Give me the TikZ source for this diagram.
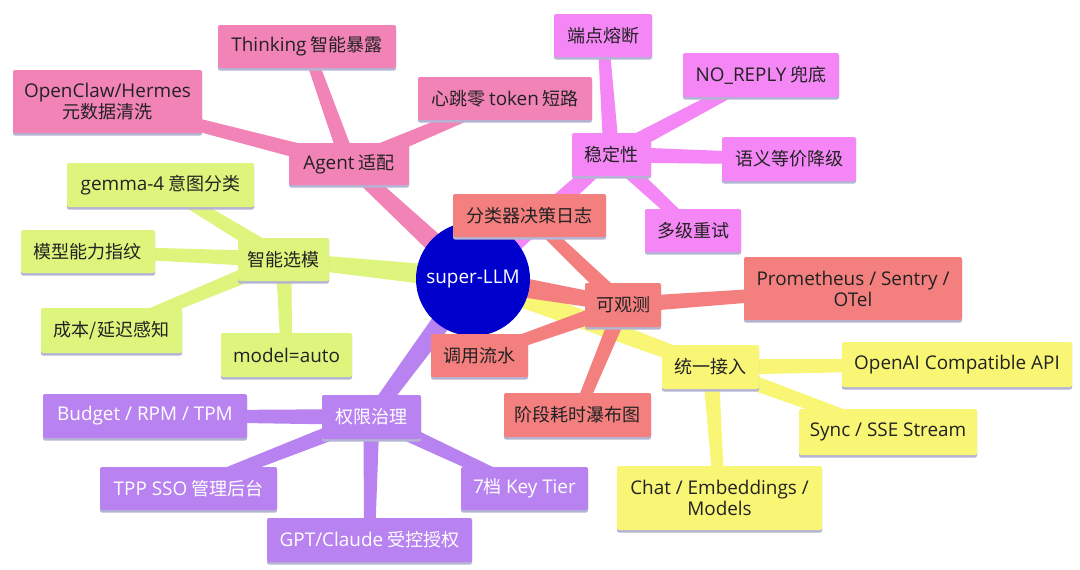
\documentclass[tikz,border=0pt]{standalone}
\usepackage{fontspec}
\setmainfont{Noto Sans CJK SC}
\newfontfamily\latinf[Scale=1.05]{Open Sans}
\newcommand\Lf[1]{{\latinf #1}}
\usetikzlibrary{calc,shadows}
\definecolor{cpink}{HTML}{F283B6}
\definecolor{cmag}{HTML}{F487F5}
\definecolor{cgreen}{HTML}{DDF57C}
\definecolor{csalmon}{HTML}{F47F7F}
\definecolor{cyellow}{HTML}{F8F674}
\definecolor{cpurple}{HTML}{B883F0}
\definecolor{cblue}{HTML}{0000CC}
\definecolor{cshadow}{HTML}{B4B4D4}
\definecolor{ctext}{HTML}{222222}
\pgfdeclarelayer{bg}\pgfsetlayers{bg,main}
\tikzset{
  box/.style={rectangle, rounded corners=2pt, inner sep=0pt, align=center,
    font=\fontsize{18}{21}\selectfont, text=ctext,
    drop shadow={shadow xshift=0pt, shadow yshift=-2.5pt, fill=cshadow, opacity=1}},
  pinkbox/.style={box, fill=cpink},
  magbox/.style={box, fill=cmag},
  greenbox/.style={box, fill=cgreen},
  salmonbox/.style={box, fill=csalmon},
  yellowbox/.style={box, fill=cyellow},
  purplebox/.style={box, fill=cpurple, text=white},
  hub/.style={circle, fill=cblue, text=white, inner sep=0pt, minimum size=114pt,
    font=\fontsize{18}{21}\selectfont},
}
% tapered connector: colour, from, to, half width at from, half width at to
\newcommand\conn[5]{%
  \fill[#1] let \p1=($(#3)-(#2)$), \n1={atan2(\y1,\x1)} in
    ($(#2)+(\n1+90:#4)$) -- ($(#3)+(\n1+90:#5)$) --
    ($(#3)+(\n1-90:#5)$) -- ($(#2)+(\n1-90:#4)$) -- cycle;}
\begin{document}
\begin{tikzpicture}[x=1pt,y=-1pt]
\useasboundingbox (0,0) rectangle (1080,570);

\node[hub] (hub) at (473,279) {\Lf{super-LLM}};

% Agent
\node[pinkbox, minimum width=120pt, minimum height=42pt] (agent) at (349,164) {\Lf{Agent} 适配};
\node[pinkbox, minimum width=178pt, minimum height=43pt] (think) at (307,46.5) {\Lf{Thinking} 智能暴露};
\node[pinkbox, minimum width=189pt, minimum height=63pt] (openclaw) at (107.5,101.5) {\Lf{OpenClaw/Hermes}\\元数据清洗};
\node[pinkbox, minimum width=174pt, minimum height=43pt] (heart) at (505,98.5) {心跳零 \Lf{token} 短路};

% stability
\node[magbox, minimum width=79pt, minimum height=43pt] (wending) at (611.5,154.5) {稳定性};
\node[magbox, minimum width=98pt, minimum height=43pt] (duan) at (603,35.5) {端点熔断};
\node[magbox, minimum width=156pt, minimum height=44pt] (noreply) at (761,75) {\Lf{NO\_REPLY} 兜底};
\node[magbox, minimum width=134pt, minimum height=44pt] (yuyi) at (789,159) {语义等价降级};
\node[magbox, minimum width=96pt, minimum height=43pt] (duoji) at (693,230.5) {多级重试};

% model selection
\node[greenbox, minimum width=91pt, minimum height=43pt] (zhineng) at (283.5,259.5) {智能选模};
\node[greenbox, minimum width=187pt, minimum height=44pt] (gemma) at (160.5,185) {\Lf{gemma-4} 意图分类};
\node[greenbox, minimum width=134pt, minimum height=43pt] (moxing) at (88,251.5) {模型能力指纹};
\node[greenbox, minimum width=141pt, minimum height=45pt] (chengben) at (111.5,330.5) {成本/延迟感知};
\node[greenbox, minimum width=131pt, minimum height=44pt] (auto) at (286.5,355) {\Lf{model=auto}};

% observability
\node[salmonbox, minimum width=76pt, minimum height=44pt] (keguance) at (623,305) {可观测};
\node[salmonbox, minimum width=153pt, minimum height=43pt] (fenlei) at (529.5,215.5) {分类器决策日志};
\node[salmonbox, minimum width=218pt, minimum height=63pt] (prom) at (853,288.5) {\Lf{Prometheus / Sentry /}\\\Lf{OTel}};
\node[salmonbox, minimum width=97pt, minimum height=43pt] (diaoyong) at (479.5,355.5) {调用流水};
\node[salmonbox, minimum width=147pt, minimum height=44pt] (jieduan) at (577.5,415) {阶段耗时瀑布图};

% unified access
\node[yellowbox, minimum width=97pt, minimum height=44pt] (tongyi) at (710.5,367) {统一接入};
\node[yellowbox, minimum width=230pt, minimum height=45pt] (openai) at (957,364.5) {\Lf{OpenAI Compatible API}};
\node[yellowbox, minimum width=178pt, minimum height=46pt] (sync) at (888,432) {\Lf{Sync / SSE Stream}};
\node[yellowbox, minimum width=205pt, minimum height=64pt] (chat) at (719.5,498) {\Lf{Chat / Embeddings /}\\\Lf{Models}};

% governance
\node[purplebox, minimum width=99pt, minimum height=44pt] (quanxian) at (371.5,417) {权限治理};
\node[purplebox, minimum width=204pt, minimum height=44pt] (budget) at (145,416) {\Lf{Budget / RPM / TPM}};
\node[purplebox, minimum width=177pt, minimum height=43pt] (tpp) at (188.5,488.5) {\Lf{TPP SSO} 管理后台};
\node[purplebox, minimum width=127pt, minimum height=43pt] (tier) at (524.5,488.5) {\Lf{7}档 \Lf{Key Tier}};
\node[purplebox, minimum width=205pt, minimum height=44pt] (gpt) at (369.5,540) {\Lf{GPT/Claude} 受控授权};

\begin{pgfonlayer}{bg}
  \fill[white] (0,0) rectangle (1080,570);
  % main branches
  \conn{cpink}{hub}{agent}{11pt}{7pt}
  \conn{cmag}{hub}{wending}{11pt}{7pt}
  \conn{cgreen}{hub}{zhineng}{11pt}{7pt}
  \conn{cyellow}{hub}{tongyi}{11pt}{7pt}
  \conn{cpurple}{hub}{quanxian}{11pt}{7pt}
  \conn{csalmon}{hub}{keguance}{11pt}{7pt}
  % sub branches
  \conn{cpink}{agent}{think}{8pt}{5.5pt}
  \conn{cpink}{agent}{openclaw}{8pt}{5.5pt}
  \conn{cpink}{agent}{heart}{8pt}{5.5pt}
  \conn{cmag}{wending}{duan}{8pt}{5.5pt}
  \conn{cmag}{wending}{noreply}{8pt}{5.5pt}
  \conn{cmag}{wending}{yuyi}{8pt}{5.5pt}
  \conn{cmag}{wending}{duoji}{8pt}{5.5pt}
  \conn{cgreen}{zhineng}{gemma}{8pt}{5.5pt}
  \conn{cgreen}{zhineng}{moxing}{8pt}{5.5pt}
  \conn{cgreen}{zhineng}{chengben}{8pt}{5.5pt}
  \conn{cgreen}{zhineng}{auto}{8pt}{5.5pt}
  \conn{cyellow}{tongyi}{openai}{8pt}{5.5pt}
  \conn{cyellow}{tongyi}{sync}{8pt}{5.5pt}
  \conn{cyellow}{tongyi}{chat}{8pt}{5.5pt}
  \conn{cpurple}{quanxian}{budget}{8pt}{5.5pt}
  \conn{cpurple}{quanxian}{tpp}{8pt}{5.5pt}
  \conn{cpurple}{quanxian}{tier}{8pt}{5.5pt}
  \conn{cpurple}{quanxian}{gpt}{8pt}{5.5pt}
  \conn{csalmon}{keguance}{fenlei}{8pt}{5.5pt}
  \conn{csalmon}{keguance}{prom}{8pt}{5.5pt}
  \conn{csalmon}{keguance}{diaoyong}{8pt}{5.5pt}
  \conn{csalmon}{keguance}{jieduan}{8pt}{5.5pt}
\end{pgfonlayer}
\end{tikzpicture}
\end{document}
